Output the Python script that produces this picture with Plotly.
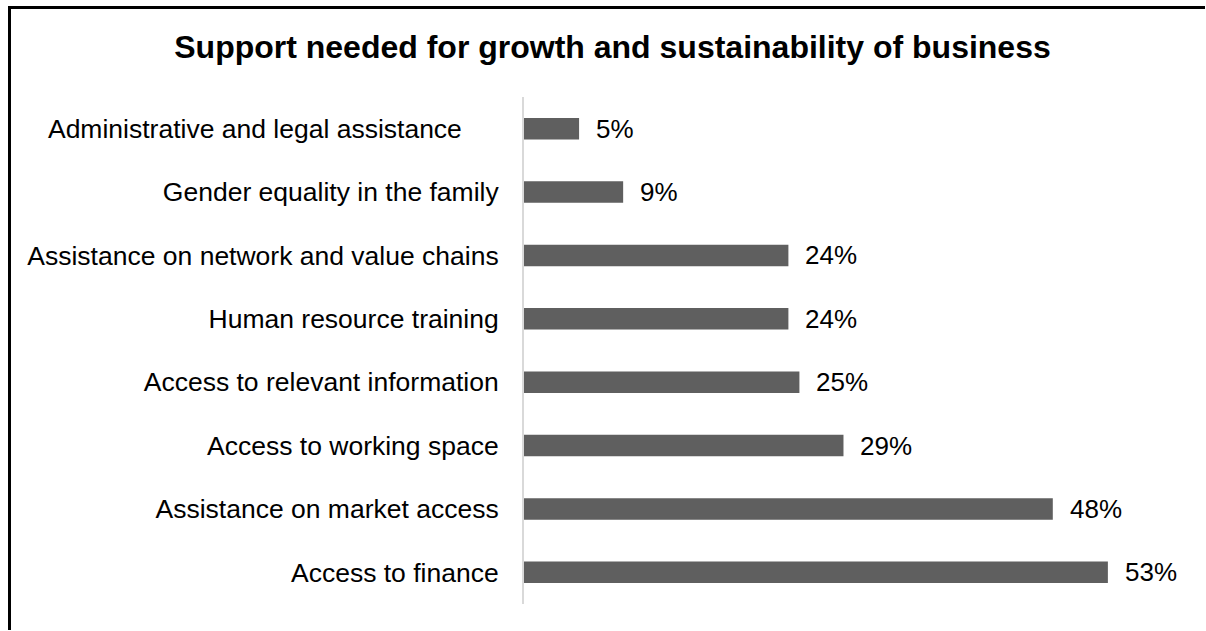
import plotly.graph_objects as go

# Support categories, listed bottom-to-top as drawn on the y axis
categories = [
    "Access to finance",
    "Assistance on market access",
    "Access to working space",
    "Access to relevant information",
    "Human resource training",
    "Assistance on network and value chains",
    "Gender equality in the family",
    "Administrative and legal assistance\u00a0\u00a0\u00a0\u00a0\u00a0",
]
shares = [53, 48, 29, 25, 24, 24, 9, 5]  # percent of respondents
value_labels = [f"{v}%" for v in shares]

FONT = "Liberation Sans, Arial, sans-serif"
BAR_COLOR = "#5f5f5f"

# Plot-area geometry in pixels (used to place the outer frame)
W, H = 1206, 631
L, R, T, B = 524, 21, 97, 27
PW, PH = W - L - R, H - T - B

fig = go.Figure(
    go.Bar(
        x=shares,
        y=categories,
        orientation="h",
        marker=dict(color=BAR_COLOR, line=dict(width=0)),
        hoverinfo="skip",
    )
)

# Percentage labels just past the end of each bar
for cat, val, lab in zip(categories, shares, value_labels):
    fig.add_annotation(
        x=val, y=cat, text=lab, showarrow=False,
        xanchor="left", yanchor="middle", xshift=15,
        font=dict(family=FONT, size=26, color="#000000"),
    )


def px_x(px):
    return (px - L) / PW


def px_y(py):
    return (H - B - py) / PH


# Outer frame: top and left edges of the chart border
frame = dict(color="#000000", width=3)
fig.add_shape(type="line", xref="paper", yref="paper",
              x0=px_x(8), x1=px_x(W - 1), y0=px_y(7.5), y1=px_y(7.5), line=frame)
fig.add_shape(type="line", xref="paper", yref="paper",
              x0=px_x(9.5), x1=px_x(9.5), y0=px_y(6), y1=px_y(H - 1), line=frame)

fig.update_layout(
    width=W, height=H,
    margin=dict(l=L, r=R, t=T, b=B),
    paper_bgcolor="#ffffff", plot_bgcolor="#ffffff",
    showlegend=False,
    bargap=0.66,
    title=dict(
        text="<b>Support needed for growth and sustainability of business</b>",
        x=612.5 / W, xanchor="center", xref="container",
        y=1 - 47 / H, yanchor="middle", yref="container",
        font=dict(family=FONT, size=32, color="#000000"),
    ),
    xaxis=dict(
        range=[0, 60], visible=False, showgrid=False, zeroline=False,
        fixedrange=True,
    ),
    yaxis=dict(
        type="category",
        showline=True, linecolor="#d9d9d9", linewidth=2,
        showgrid=False, zeroline=False, ticks="",
        ticklabelstandoff=18,
        tickfont=dict(family=FONT, size=26.5, color="#000000"),
        fixedrange=True,
    ),
)

fig.write_html("out.html")
